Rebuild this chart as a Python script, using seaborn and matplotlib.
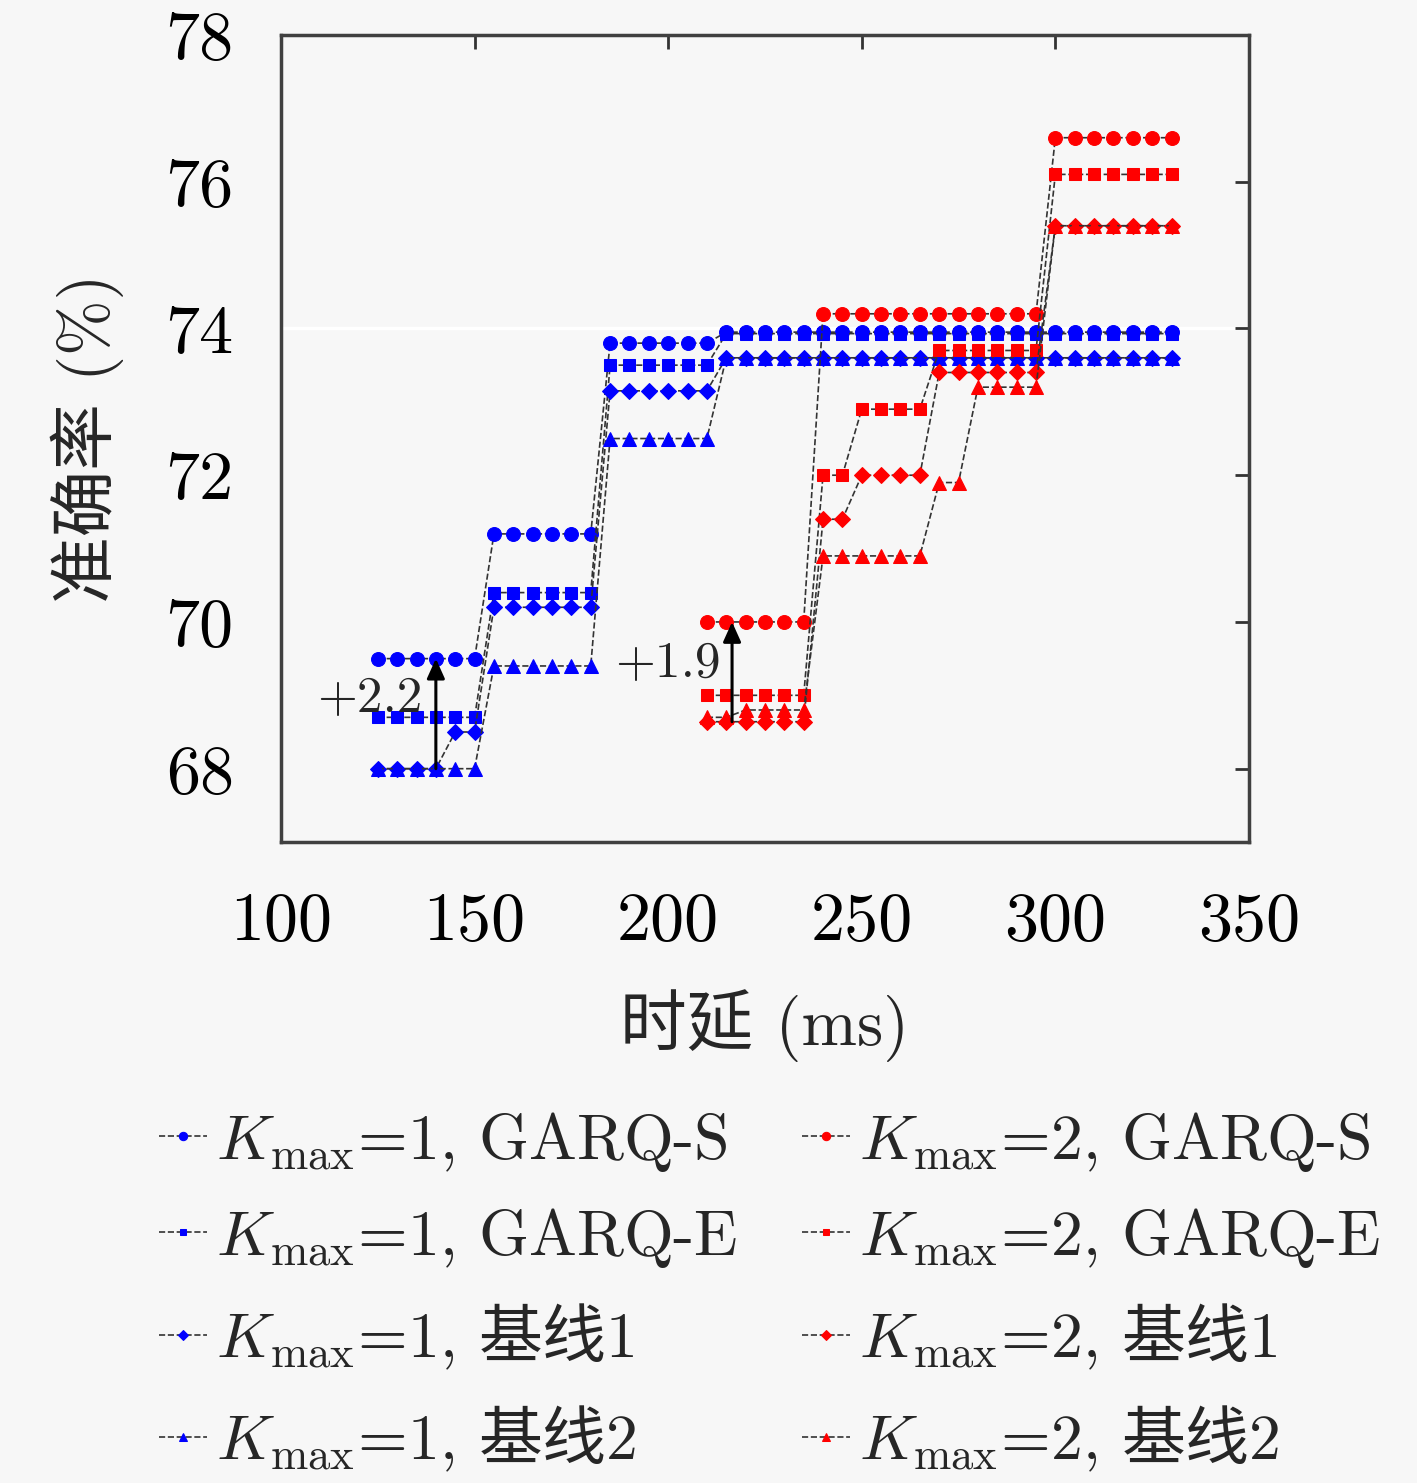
import matplotlib
matplotlib.use("Agg")
import matplotlib.pyplot as plt
import seaborn as sns
import pandas as pd

# 时延 (ms)
delay_k1 = list(range(125, 335, 5))
delay_k2 = list(range(210, 335, 5))

# Kmax = 1
k1_garq_s = [69.5, 69.5, 69.5, 69.5, 69.5, 69.5,
             71.2, 71.2, 71.2, 71.2, 71.2, 71.2,
             73.8, 73.8, 73.8, 73.8, 73.8, 73.8,
             73.95, 73.95, 73.95, 73.95, 73.95, 73.95, 73.95, 73.95,
             73.95, 73.95, 73.95, 73.95, 73.95, 73.95, 73.95, 73.95,
             73.95, 73.95, 73.95, 73.95, 73.95, 73.95, 73.95, 73.95]
k1_garq_e = [68.7, 68.7, 68.7, 68.7, 68.7, 68.7,
             70.4, 70.4, 70.4, 70.4, 70.4, 70.4,
             73.5, 73.5, 73.5, 73.5, 73.5, 73.5,
             73.93, 73.93, 73.93, 73.93, 73.93, 73.93, 73.93, 73.93,
             73.93, 73.93, 73.93, 73.93, 73.93, 73.93, 73.93, 73.93,
             73.93, 73.93, 73.93, 73.93, 73.93, 73.93, 73.93, 73.93]
k1_base1 = [68.0, 68.0, 68.0, 68.0, 68.5, 68.5,
            70.2, 70.2, 70.2, 70.2, 70.2, 70.2,
            73.15, 73.15, 73.15, 73.15, 73.15, 73.15,
            73.6, 73.6, 73.6, 73.6, 73.6, 73.6, 73.6, 73.6,
            73.6, 73.6, 73.6, 73.6, 73.6, 73.6, 73.6, 73.6,
            73.6, 73.6, 73.6, 73.6, 73.6, 73.6, 73.6, 73.6]
k1_base2 = [68.0, 68.0, 68.0, 68.0, 68.0, 68.0,
            69.4, 69.4, 69.4, 69.4, 69.4, 69.4,
            72.5, 72.5, 72.5, 72.5, 72.5, 72.5,
            73.6, 73.6, 73.6, 73.6, 73.6, 73.6, 73.6, 73.6,
            73.6, 73.6, 73.6, 73.6, 73.6, 73.6, 73.6, 73.6,
            73.6, 73.6, 73.6, 73.6, 73.6, 73.6, 73.6, 73.6]

# Kmax = 2
k2_garq_s = [70.0, 70.0, 70.0, 70.0, 70.0, 70.0,
             74.2, 74.2, 74.2, 74.2, 74.2, 74.2,
             74.2, 74.2, 74.2, 74.2, 74.2, 74.2,
             76.6, 76.6, 76.6, 76.6, 76.6, 76.6, 76.6]
k2_garq_e = [69.0, 69.0, 69.0, 69.0, 69.0, 69.0,
             72.0, 72.0, 72.9, 72.9, 72.9, 72.9,
             73.7, 73.7, 73.7, 73.7, 73.7, 73.7,
             76.1, 76.1, 76.1, 76.1, 76.1, 76.1, 76.1]
k2_base1 = [68.64, 68.64, 68.64, 68.64, 68.64, 68.64,
            71.4, 71.4, 72.0, 72.0, 72.0, 72.0,
            73.4, 73.4, 73.4, 73.4, 73.4, 73.4,
            75.4, 75.4, 75.4, 75.4, 75.4, 75.4, 75.4]
k2_base2 = [68.7, 68.7, 68.8, 68.8, 68.8, 68.8,
            70.9, 70.9, 70.9, 70.9, 70.9, 70.9,
            71.9, 71.9, 73.2, 73.2, 73.2, 73.2,
            75.4, 75.4, 75.4, 75.4, 75.4, 75.4, 75.4]

# CJK parts go through \mathsf (mapped to a CJK font below)
method_names = ["GARQ-S", "GARQ-E", r"$\mathsf{基线}$1", r"$\mathsf{基线}$2"]
markers = ["o", "s", "D", "^"]
marker_sizes = [10, 8, 8, 10]

gains = [("+2.2", 140, 68.0, 69.5, 123, 68.95),
         ("+1.9", 216.5, 68.64, 70.0, 200, 69.42)]

sns.set_theme(style="white")
plt.rcParams["font.family"] = ["cmr10", "Noto Sans CJK SC", "DejaVu Sans"]
plt.rcParams["mathtext.fontset"] = "custom"
plt.rcParams["mathtext.rm"] = "cmr10"
plt.rcParams["mathtext.it"] = "cmmi10"
plt.rcParams["mathtext.bf"] = "cmb10"
plt.rcParams["mathtext.sf"] = "Noto Sans CJK SC"
plt.rcParams["axes.unicode_minus"] = False

bg = "#f7f7f7"
fig = plt.figure(figsize=(14.17, 14.83), dpi=100, facecolor=bg)
ax = fig.add_axes([0.1983, 0.4322, 0.6831, 0.5442])
ax.set_facecolor(bg)

ax.axhline(74, color="white", lw=2.5, zorder=0)

groups = [(1, "blue", delay_k1, [k1_garq_s, k1_garq_e, k1_base1, k1_base2]),
          (2, "red", delay_k2, [k2_garq_s, k2_garq_e, k2_base1, k2_base2])]
for kmax, col, xs, series in groups:
    for name, mk, ms, ys in zip(method_names, markers, marker_sizes, series):
        df = pd.DataFrame({"delay": xs, "acc": ys})
        sns.lineplot(data=df, x="delay", y="acc", ax=ax, color="#333333",
                     linestyle="--", lw=1.2, marker=mk, markersize=ms,
                     markerfacecolor=col, markeredgecolor=col,
                     label=r"$K_{\mathrm{max}}$=" + f"{kmax}, {name}")

for txt, x, y0, y1, tx, ty in gains:
    ax.annotate("", xy=(x, y1), xytext=(x, y0),
                arrowprops=dict(arrowstyle="-|>,head_length=1.0,head_width=0.45",
                                color="black", lw=2.2, shrinkA=0, shrinkB=0))
    ax.text(tx, ty, txt, ha="center", va="center", fontsize=37)

ax.set_xlim(100, 350)
ax.set_ylim(67, 78)
ax.set_xticks([100, 150, 200, 250, 300, 350])
ax.set_yticks([68, 70, 72, 74, 76, 78])
ax.tick_params(axis="both", direction="in", length=10, width=2,
               labelsize=49, top=True, right=True, colors="#333333",
               labelcolor="black")
ax.tick_params(axis="y", pad=34)
ax.tick_params(axis="x", pad=36)
for sp in ax.spines.values():
    sp.set_linewidth(2.5)
    sp.set_color("#404040")

ax.set_xlabel("时延 (ms)", fontsize=48, labelpad=26)
ax.set_ylabel("准确率 (%)", fontsize=48, labelpad=30)

leg = ax.legend(loc="upper center", bbox_to_anchor=(0.505, -0.30), ncol=2,
                frameon=False, fontsize=46, handlelength=0.75, handletextpad=0.15,
                columnspacing=1.0, labelspacing=0.5, markerscale=0.6,
                borderaxespad=0)

fig.savefig("out.png", dpi=100, facecolor=bg)
